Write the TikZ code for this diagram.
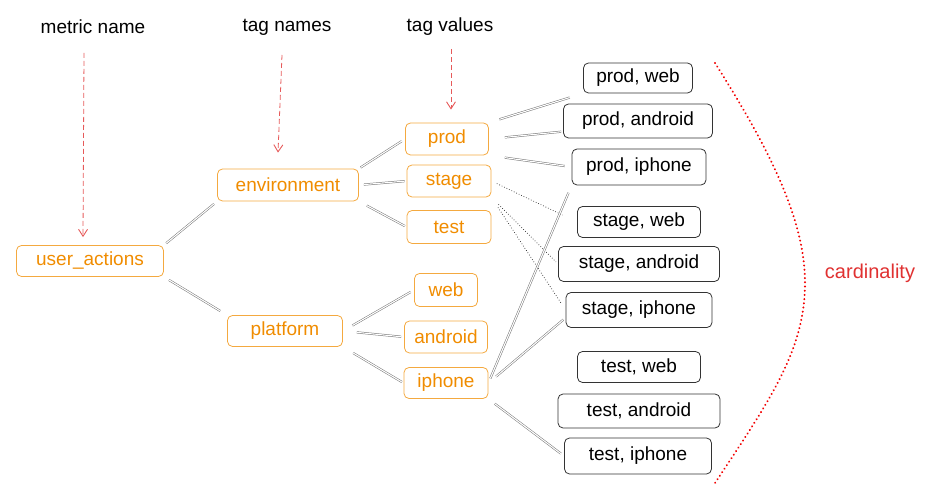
\documentclass[tikz,border=0pt]{standalone}
\usepackage{fontspec}
\setmainfont{Liberation Sans}
\usetikzlibrary{arrows.meta}
\definecolor{ora}{HTML}{F08C00}
\definecolor{redl}{HTML}{E03131}
\newcommand{\fsz}{\fontsize{19}{22}\selectfont}
\begin{document}
\begin{tikzpicture}[x=1pt,y=-1pt,
 obox/.style={draw=ora!75, text=ora, rounded corners=5pt, line width=0.8pt, inner sep=0pt, font=\fsz},
 kbox/.style={draw=black!80, rounded corners=5pt, line width=0.8pt, inner sep=0pt, font=\fsz},
 sz/.style 2 args={minimum width=#1pt, minimum height=#2pt},
 dl/.style={draw=black!55, double=white, double distance=1.1pt, line width=0.5pt},
 dt/.style={draw=black!85, dotted, line width=0.7pt},
 lab/.style={font=\fsz, inner sep=0pt},
 rarr/.style={draw=redl!80, dashed, dash pattern=on 5pt off 3pt, line width=0.8pt, -{Straight Barb[length=7pt,width=9pt,line width=0.9pt]}}]
\useasboundingbox (0,0) rectangle (932,494);

% header labels
\node[lab] (lm) at (93,27) {metric name};
\node[lab] (lt) at (287,27) {tag names};
\node[lab] (lv) at (450,27) {tag values};

% left / middle nodes
\node[obox, sz={147}{31}] (ua) at (90,261) {user\_actions};
\node[obox, sz={141}{32}] (env) at (288,185) {environment};
\node[obox, sz={115}{31}] (plat) at (285,331) {platform};
\node[obox, sz={83}{32}] (prod) at (447,139) {prod};
\node[obox, sz={84}{32}] (stage) at (449,181) {stage};
\node[obox, sz={84}{33}] (test) at (449,227) {test};
\node[obox, sz={63}{33}] (web) at (446,290) {web};
\node[obox, sz={83}{32}] (andr) at (446,337) {android};
\node[obox, sz={84}{31}] (iph) at (446,383) {iphone};

% right nodes
\node[kbox, sz={109}{30}] (pw) at (638,78) {prod, web};
\node[kbox, sz={149}{34}] (pa) at (638,121) {prod, android};
\node[kbox, sz={134}{36}] (pi) at (639,167) {prod, iphone};
\node[kbox, sz={123}{31}] (sw) at (639,222) {stage, web};
\node[kbox, sz={161}{35}] (sa) at (639,264) {stage, android};
\node[kbox, sz={146}{35}] (si) at (639,310) {stage, iphone};
\node[kbox, sz={123}{31}] (tw) at (639,367) {test, web};
\node[kbox, sz={162}{34}] (ta) at (639,411) {test, android};
\node[kbox, sz={147}{36}] (ti) at (638,456) {test, iphone};

% red dashed arrows
\coordinate (am) at (84,53);
\coordinate (at) at (282,55);
\coordinate (av) at (451,49);
\draw[rarr] (am) -- ([xshift=-7pt,yshift=8pt]ua.north);
\draw[rarr] (at) -- ([xshift=-10pt,yshift=16pt]env.north);
\draw[rarr] (av) -- ([xshift=4pt,yshift=13pt]prod.north);

% connectors
\draw[dl, shorten <=3pt, shorten >=4pt] (ua.north east) -- (env.south west);
\draw[dl, shorten <=6pt, shorten >=8pt] (ua.south east) -- (plat.north west);
\draw[dl, shorten <=2pt, shorten >=4pt] (env.north east) -- (prod.west);
\draw[dl, shorten <=5pt, shorten >=2pt] (env.east) -- (stage.west);
\draw[dl, shorten <=9pt, shorten >=2pt] (env.south east) -- (test.west);
\draw[dl, shorten <=11pt, shorten >=4pt] (plat.east) -- (web.west);
\draw[dl, shorten <=14pt, shorten >=3pt] (plat.east) -- (andr.west);
\draw[dl, shorten <=12pt, shorten >=2pt] (plat.south east) -- (iph.west);

\draw[dl, shorten <=11pt, shorten >=14pt] (prod.north east) -- (pw.south west);
\draw[dl, shorten <=16pt, shorten >=2pt] (prod.east) -- (pa.188);
\draw[dl, shorten <=16pt, shorten >=7pt] (prod.south east) -- (pi.west);

\draw[dt, shorten <=6pt, shorten >=16pt] (stage.east) -- (sw.west);
\draw[dt, shorten <=10pt, shorten >=3pt] (stage.south east) -- (sa.west);
\draw[dt, shorten <=12pt, shorten >=7pt] (stage.south east) -- (si.west);

\draw[dl, shorten <=5pt, shorten >=8pt] (iph.east) -- (pi.south west);
\draw[dl, shorten <=10pt, shorten >=3pt] (iph.east) -- (si.186);
\draw[dl, shorten <=8pt, shorten >=4pt] (iph.south east) -- (ti.west);

% cardinality
\coordinate (c0) at (715,63);
\coordinate (c1) at (805,283);
\coordinate (c2) at (715,483);
\draw[red!95!black, line width=2.2pt, dash pattern=on 0.01pt off 4.2pt, line cap=round]
 (c0) .. controls (770,150) and (805,220) .. (c1) .. controls (805,350) and (770,400) .. (c2);
\node[lab, text=redl, font=\fontsize{20}{22}\selectfont] (card) at (870,273) {cardinality};
\end{tikzpicture}
\end{document}
